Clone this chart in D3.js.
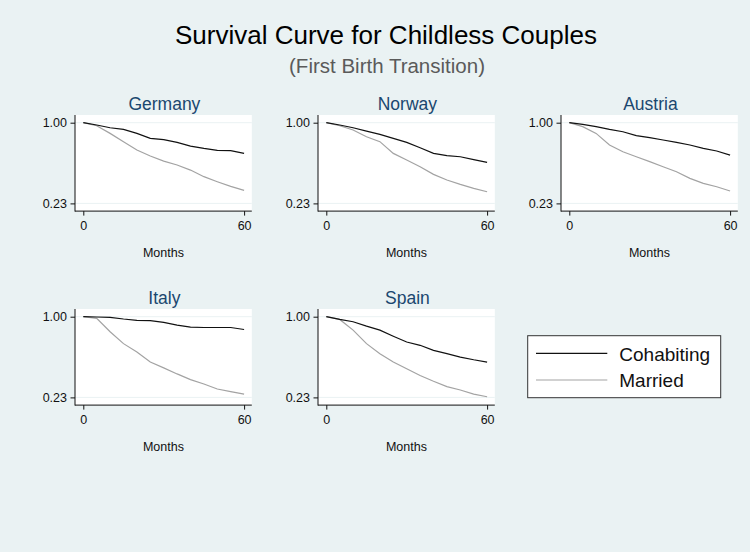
<!DOCTYPE html>
<html><head><meta charset="utf-8">
<script src="https://cdn.jsdelivr.net/npm/d3@7"></script>
<style>
html,body{margin:0;padding:0;background:#eaf2f3;}
svg{display:block;font-family:"Liberation Sans",Arial,Helvetica,sans-serif;}
</style></head>
<body>
<script>
// ---- Data ----
const countries = ["Germany", "Norway", "Austria", "Italy", "Spain"];
const seriesNames = ["Cohabiting", "Married"];
const months = [0, 5, 10, 15, 20, 25, 30, 35, 40, 45, 50, 55, 60];
const xTicks = [0, 60];
const yTicks = [1.00, 0.23];

const germanyCohab   = [1.00, 0.978, 0.952, 0.936, 0.898, 0.850, 0.838, 0.812, 0.777, 0.755, 0.736, 0.733, 0.707];
const germanyMarried = [1.00, 0.971, 0.898, 0.819, 0.739, 0.682, 0.634, 0.596, 0.548, 0.485, 0.437, 0.392, 0.354];
const norwayCohab    = [1.00, 0.978, 0.952, 0.920, 0.889, 0.850, 0.812, 0.761, 0.707, 0.685, 0.675, 0.647, 0.621];
const norwayMarried  = [1.00, 0.971, 0.930, 0.866, 0.819, 0.707, 0.644, 0.580, 0.507, 0.453, 0.411, 0.373, 0.341];
const austriaCohab   = [1.00, 0.984, 0.962, 0.936, 0.914, 0.876, 0.857, 0.835, 0.812, 0.787, 0.755, 0.730, 0.691];
const austriaMarried = [1.00, 0.962, 0.898, 0.787, 0.723, 0.675, 0.628, 0.580, 0.532, 0.469, 0.421, 0.389, 0.348];
const italyCohab     = [1.00, 0.997, 0.994, 0.978, 0.965, 0.962, 0.945, 0.920, 0.901, 0.897, 0.897, 0.897, 0.878];
const italyMarried   = [1.00, 0.984, 0.856, 0.743, 0.663, 0.567, 0.512, 0.454, 0.400, 0.358, 0.310, 0.285, 0.262];
const spainCohab     = [1.00, 0.974, 0.952, 0.910, 0.872, 0.814, 0.759, 0.727, 0.679, 0.647, 0.615, 0.589, 0.567];
const spainMarried   = [1.00, 0.974, 0.872, 0.743, 0.647, 0.567, 0.503, 0.439, 0.384, 0.333, 0.301, 0.262, 0.236];

const cohabByCountry   = [germanyCohab, norwayCohab, austriaCohab, italyCohab, spainCohab];
const marriedByCountry = [germanyMarried, norwayMarried, austriaMarried, italyMarried, spainMarried];

// ---- Layout ----
const W = 750, H = 552;
const colors = {bg:"#eaf2f3", cohab:"#111111", married:"#a3a3a3", ptitle:"#1a476f"};
const svg = d3.select("body").append("svg").attr("width", W).attr("height", H);
svg.append("rect").attr("width", W).attr("height", H).attr("fill", colors.bg);

svg.append("text").attr("x", 386).attr("y", 43.5).attr("text-anchor", "middle")
  .attr("font-size", 26).attr("fill", "#000").text("Survival Curve for Childless Couples");
svg.append("text").attr("x", 387).attr("y", 73).attr("text-anchor", "middle")
  .attr("font-size", 20.5).attr("fill", "#5a5a5a").text("(First Birth Transition)");

const colX0 = 83.3, colStep = 243, xSpan = 160.8;
const rowY1 = 122.7, rowStep = 194, ySpan = 80.7;
const padL = 8.3, padR = 7.7, padT = 7.7, padB = 7.7;

countries.forEach((name, i) => {
  const col = i % 3, row = Math.floor(i / 3);
  const x0 = colX0 + col * colStep;
  const y1 = rowY1 + row * rowStep;
  const x = d3.scaleLinear().domain([0, 60]).range([x0, x0 + xSpan]);
  const y = d3.scaleLinear().domain([0.23, 1]).range([y1 + ySpan, y1]);
  const left = x0 - padL, right = x0 + xSpan + padR;
  const top = y1 - padT, bottom = y1 + ySpan + padB;

  const g = svg.append("g");
  g.append("rect").attr("x", left).attr("y", top).attr("width", right - left)
    .attr("height", bottom - top).attr("fill", "#fff");
  // grid lines
  g.selectAll("line.grid").data(yTicks).enter().append("line")
    .attr("x1", left).attr("x2", right).attr("y1", d => y(d)).attr("y2", d => y(d))
    .attr("stroke", colors.bg).attr("stroke-width", 1);

  // series
  const line = d3.line().x((d, k) => x(months[k])).y(d => y(d));
  g.append("path").datum(marriedByCountry[i]).attr("d", line)
    .attr("fill", "none").attr("stroke", colors.married).attr("stroke-width", 1.2);
  g.append("path").datum(cohabByCountry[i]).attr("d", line)
    .attr("fill", "none").attr("stroke", colors.cohab).attr("stroke-width", 1.2);

  // axes
  const ya = g.append("g").attr("transform", `translate(${left},0)`)
    .call(d3.axisLeft(y).tickValues(yTicks).tickFormat(d3.format(".2f")).tickSize(4.5).tickPadding(3.5));
  ya.select(".domain").remove();
  ya.selectAll("text").attr("font-size", 12.5).attr("fill", "#111").attr("font-family", "Liberation Sans, Arial, sans-serif");
  ya.selectAll("line").attr("stroke", "#111");

  const xa = g.append("g").attr("transform", `translate(0,${bottom})`)
    .call(d3.axisBottom(x).tickValues(xTicks).tickFormat(d3.format("d")).tickSize(4.5).tickPadding(6));
  xa.select(".domain").remove();
  xa.selectAll("text").attr("font-size", 12.5).attr("fill", "#111").attr("font-family", "Liberation Sans, Arial, sans-serif");
  xa.selectAll("line").attr("stroke", "#111");

  g.append("line").attr("x1", left).attr("x2", left).attr("y1", top).attr("y2", bottom + 0.5)
    .attr("stroke", "#111").attr("stroke-width", 1);
  g.append("line").attr("x1", left).attr("x2", right).attr("y1", bottom).attr("y2", bottom)
    .attr("stroke", "#111").attr("stroke-width", 1);

  g.append("text").attr("x", (left + right) / 2).attr("y", bottom + 45.5)
    .attr("text-anchor", "middle").attr("font-size", 12.5).attr("fill", "#111").text("Months");
  g.append("text").attr("x", (left + right) / 2 + 1).attr("y", top - 5)
    .attr("text-anchor", "middle").attr("font-size", 17.5).attr("fill", colors.ptitle).text(name);
});

// ---- Legend ----
const lg = svg.append("g");
lg.append("rect").attr("x", 527.7).attr("y", 335.7).attr("width", 193).attr("height", 62)
  .attr("fill", "#fff").attr("stroke", "#333").attr("stroke-width", 1);
const legendColors = [colors.cohab, colors.married];
seriesNames.forEach((s, k) => {
  const yy = 353.3 + k * 26.7;
  lg.append("line").attr("x1", 536).attr("x2", 607.3).attr("y1", yy).attr("y2", yy)
    .attr("stroke", legendColors[k]).attr("stroke-width", 1.2);
  lg.append("text").attr("x", 619.3).attr("y", yy + 0.7).attr("dominant-baseline", "central")
    .attr("font-size", 19).attr("fill", "#111").text(s);
});
</script>
</body></html>
